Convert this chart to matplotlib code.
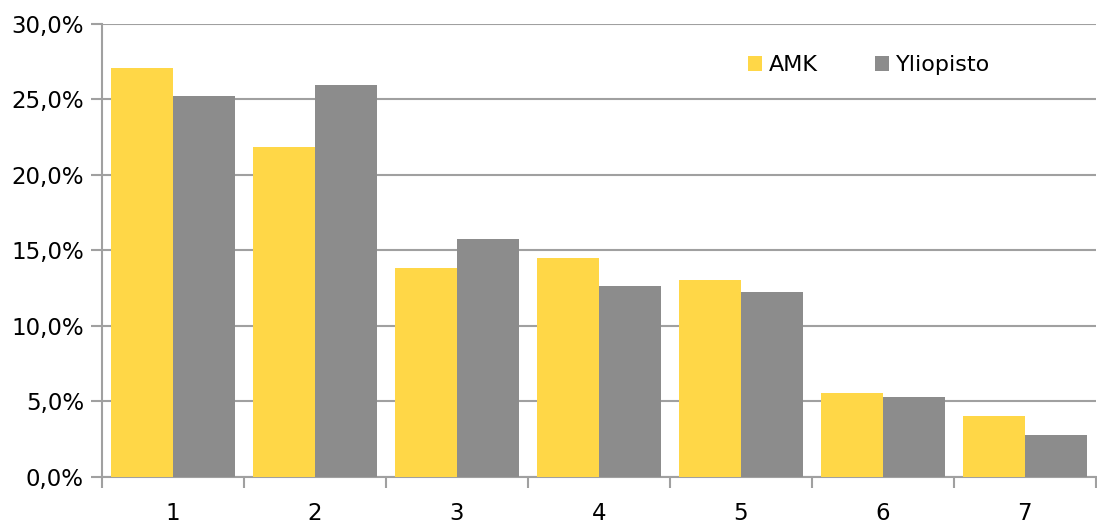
import matplotlib
matplotlib.use("Agg")
import matplotlib.pyplot as plt
import numpy as np
from matplotlib.ticker import FuncFormatter

# data (percent)
categories = ["1", "2", "3", "4", "5", "6", "7"]
amk = [27.05, 21.8, 13.8, 14.5, 13.0, 5.5, 4.0]
yliopisto = [25.2, 25.9, 15.7, 12.6, 12.2, 5.3, 2.75]

yellow = "#FFD747"
grey = "#8C8C8C"
line_col = "#A0A0A0"

plt.rcParams['font.family'] = ['DejaVu Sans']

fig = plt.figure(figsize=(10.97, 5.24), dpi=100)
ax = fig.add_axes([0.093, 0.0906, 0.906, 0.8644])

x = np.arange(len(categories))
w = 0.435
ax.bar(x - w / 2, amk, width=w, color=yellow, label="AMK", zorder=3)
ax.bar(x + w / 2, yliopisto, width=w, color=grey, label="Yliopisto", zorder=3)

ax.set_xlim(-0.5, len(categories) - 0.5)
ax.set_ylim(0, 30)
ax.set_yticks(np.arange(0, 31, 5))
ax.yaxis.set_major_formatter(FuncFormatter(lambda v, p: f"{v:.1f}%".replace(".", ",")))
ax.grid(axis="y", color=line_col, linewidth=1.5, zorder=0)

# category labels centred, ticks at boundaries
ax.set_xticks(x)
ax.set_xticklabels(categories)
ax.tick_params(axis="x", length=0, pad=18, labelsize=16.5)
ax.set_xticks(np.arange(-0.5, len(categories), 1), minor=True)
ax.tick_params(axis="x", which="minor", length=8, width=1.5, color=line_col)
ax.tick_params(axis="y", length=8, width=1.5, color=line_col, labelsize=16.5, pad=5)

for s in ["top", "right"]:
    ax.spines[s].set_visible(False)
for s in ["left", "bottom"]:
    ax.spines[s].set_color(line_col)
    ax.spines[s].set_linewidth(1.5)

ax.legend(loc="center left", bbox_to_anchor=(0.65, 0.908), ncol=2, frameon=False,
          fontsize=16, handlelength=0.63, handleheight=0.63, columnspacing=2.6,
          handletextpad=0.3, borderpad=0, borderaxespad=0)

fig.savefig("out.png", dpi=100)
